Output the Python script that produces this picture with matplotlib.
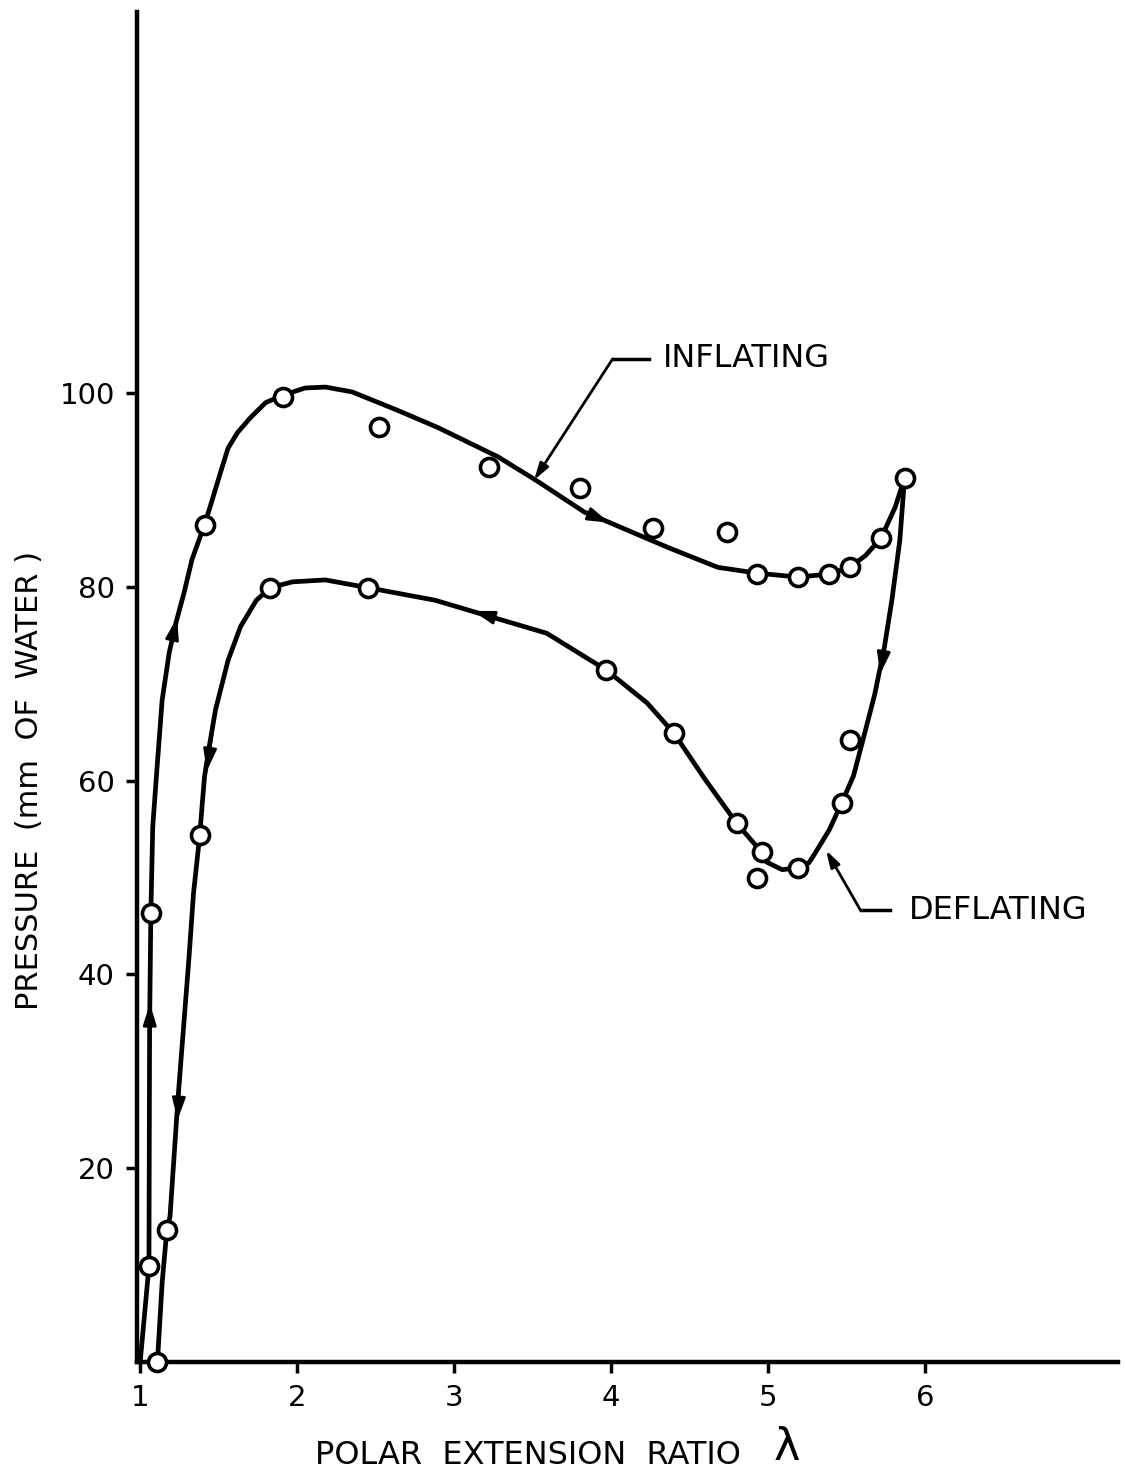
import matplotlib
matplotlib.use("Agg")
import matplotlib.pyplot as plt

plt.rcParams['font.family'] = ['DejaVu Sans']

# --- datos ---
# puntos medidos (circulos)
infl_x = [1.056, 1.068, 1.41, 1.91, 2.52, 3.22, 3.80, 4.27, 4.74, 4.93, 5.19, 5.39, 5.52, 5.72, 5.87]
infl_y = [9.9, 46.3, 86.4, 99.6, 96.5, 92.3, 90.2, 86.1, 85.6, 81.3, 81.0, 81.3, 82.0, 85.0, 91.2]

defl_x = [5.52, 5.47, 5.19, 4.93, 4.96, 4.80, 4.40, 3.97, 2.45, 1.83, 1.38, 1.17, 1.11]
defl_y = [64.2, 57.7, 51.0, 49.9, 52.6, 55.6, 64.9, 71.4, 79.9, 79.9, 54.4, 13.6, 0.0]

# curvas trazadas a mano (inflado: ida, desinflado: vuelta)
curva_infl_x = [1.00, 1.056, 1.06, 1.068, 1.08, 1.105, 1.14, 1.185, 1.23, 1.28, 1.33, 1.41,
                1.46, 1.51, 1.56, 1.62, 1.70, 1.80, 1.90, 2.05, 2.18, 2.35, 2.64, 2.90,
                3.28, 3.52, 3.83, 3.95, 4.37, 4.68, 4.93, 5.19, 5.39, 5.52, 5.62, 5.72,
                5.81, 5.87]
curva_infl_y = [0.0, 9.9, 34.6, 46.3, 55.2, 60.8, 68.3, 73.2, 76.4, 79.4, 82.8, 86.4,
                89.0, 91.7, 94.3, 95.9, 97.4, 99.0, 99.7, 100.5, 100.6, 100.1, 98.2, 96.4,
                93.4, 91.0, 87.7, 86.9, 84.0, 82.0, 81.4, 81.0, 81.3, 82.0, 83.2, 85.0,
                88.2, 91.2]

curva_defl_x = [5.87, 5.84, 5.79, 5.74, 5.68, 5.61, 5.545, 5.47, 5.39, 5.30, 5.26, 5.19, 5.09,
                4.99, 4.96, 4.80, 4.60, 4.40, 4.23, 3.97, 3.59, 3.15, 2.88, 2.45, 2.18,
                1.97, 1.83, 1.74, 1.64, 1.56, 1.48, 1.44, 1.41, 1.395, 1.38, 1.34, 1.31,
                1.24, 1.19, 1.17, 1.14, 1.11]
curva_defl_y = [91.2, 84.8, 78.7, 73.6, 68.9, 64.5, 60.5, 57.7, 54.9, 52.5, 51.5, 51.0, 50.8,
                51.6, 52.6, 55.6, 60.1, 64.9, 68.0, 71.4, 75.2, 77.3, 78.6, 79.9, 80.7,
                80.5, 79.9, 78.6, 75.9, 72.4, 67.3, 63.5, 60.4, 57.5, 54.4, 48.4, 41.5,
                27.0, 15.0, 13.6, 8.2, 0.0]

x_ticks = [1, 2, 3, 4, 5, 6]
y_ticks = [20, 40, 60, 80, 100]

# flechas de direccion sobre las curvas: (cola, punta)
flechas = [((1.058, 28.0), (1.062, 37.0)),
           ((1.185, 73.2), (1.235, 76.8)),
           ((3.83, 87.7), (3.99, 86.6)),
           ((5.79, 78.7), (5.715, 71.0)),
           ((3.40, 76.1), (3.12, 77.5)),
           ((1.48, 67.3), (1.425, 61.0)),
           ((1.262, 31.5), (1.238, 25.0))]

fig = plt.figure(figsize=(11.26, 14.8), dpi=100)
ax = fig.add_axes([0.1217, 0.0797, 0.8712, 0.9122])

ax.plot(curva_infl_x, curva_infl_y, color='black', lw=3.4, solid_joinstyle='round',
        solid_capstyle='round', zorder=3)
ax.plot(curva_defl_x, curva_defl_y, color='black', lw=3.4, solid_joinstyle='round',
        solid_capstyle='round', zorder=3)

for (cola, punta) in flechas:
    ax.annotate('', xy=punta, xytext=cola,
                arrowprops=dict(arrowstyle='-|>,head_length=1.3,head_width=0.4',
                                color='black', lw=2, shrinkA=0, shrinkB=0), zorder=4)

ax.plot(infl_x, infl_y, 'o', ms=13, mfc='white', mec='black', mew=2.6, zorder=6, clip_on=False)
ax.plot(defl_x, defl_y, 'o', ms=13, mfc='white', mec='black', mew=2.6, zorder=6, clip_on=False)

# etiquetas con flecha
ax.annotate('', xy=(3.51, 91.0), xytext=(4.01, 103.5),
            arrowprops=dict(arrowstyle='-|>,head_length=1.0,head_width=0.3',
                            color='black', lw=2, shrinkA=0, shrinkB=0))
ax.plot([4.01, 4.24], [103.5, 103.5], color='black', lw=2.5)
ax.text(4.33, 103.5, 'INFLATING', fontsize=23, va='center', ha='left')

ax.annotate('', xy=(5.37, 52.8), xytext=(5.59, 46.6),
            arrowprops=dict(arrowstyle='-|>,head_length=1.0,head_width=0.3',
                            color='black', lw=2, shrinkA=0, shrinkB=0))
ax.plot([5.59, 5.78], [46.6, 46.6], color='black', lw=2.5)
ax.text(5.90, 46.6, 'DEFLATING', fontsize=23, va='center', ha='left')

ax.set_xlim(0.98, 7.23)
ax.set_ylim(0, 139.3)
ax.set_xticks(x_ticks)
ax.set_yticks(y_ticks)
ax.set_xticklabels([str(t) for t in x_ticks])
ax.set_yticklabels([str(t) for t in y_ticks])
ax.tick_params(axis='both', direction='out', length=8, width=2.5, labelsize=21, pad=8)

for lado in ['top', 'right']:
    ax.spines[lado].set_visible(False)
for lado in ['left', 'bottom']:
    ax.spines[lado].set_linewidth(3.2)

fig.text(30 / 1126, 1 - 780 / 1480, 'PRESSURE  (mm  OF  WATER )', rotation=90,
         fontsize=22, ha='center', va='center')
fig.text(528 / 1126, 1 - 1455 / 1480, 'POLAR  EXTENSION  RATIO', fontsize=23,
         ha='center', va='center')
fig.text(787 / 1126, 1 - 1447 / 1480, 'λ', fontsize=32, ha='center', va='center')

fig.savefig('out.png', dpi=100)
